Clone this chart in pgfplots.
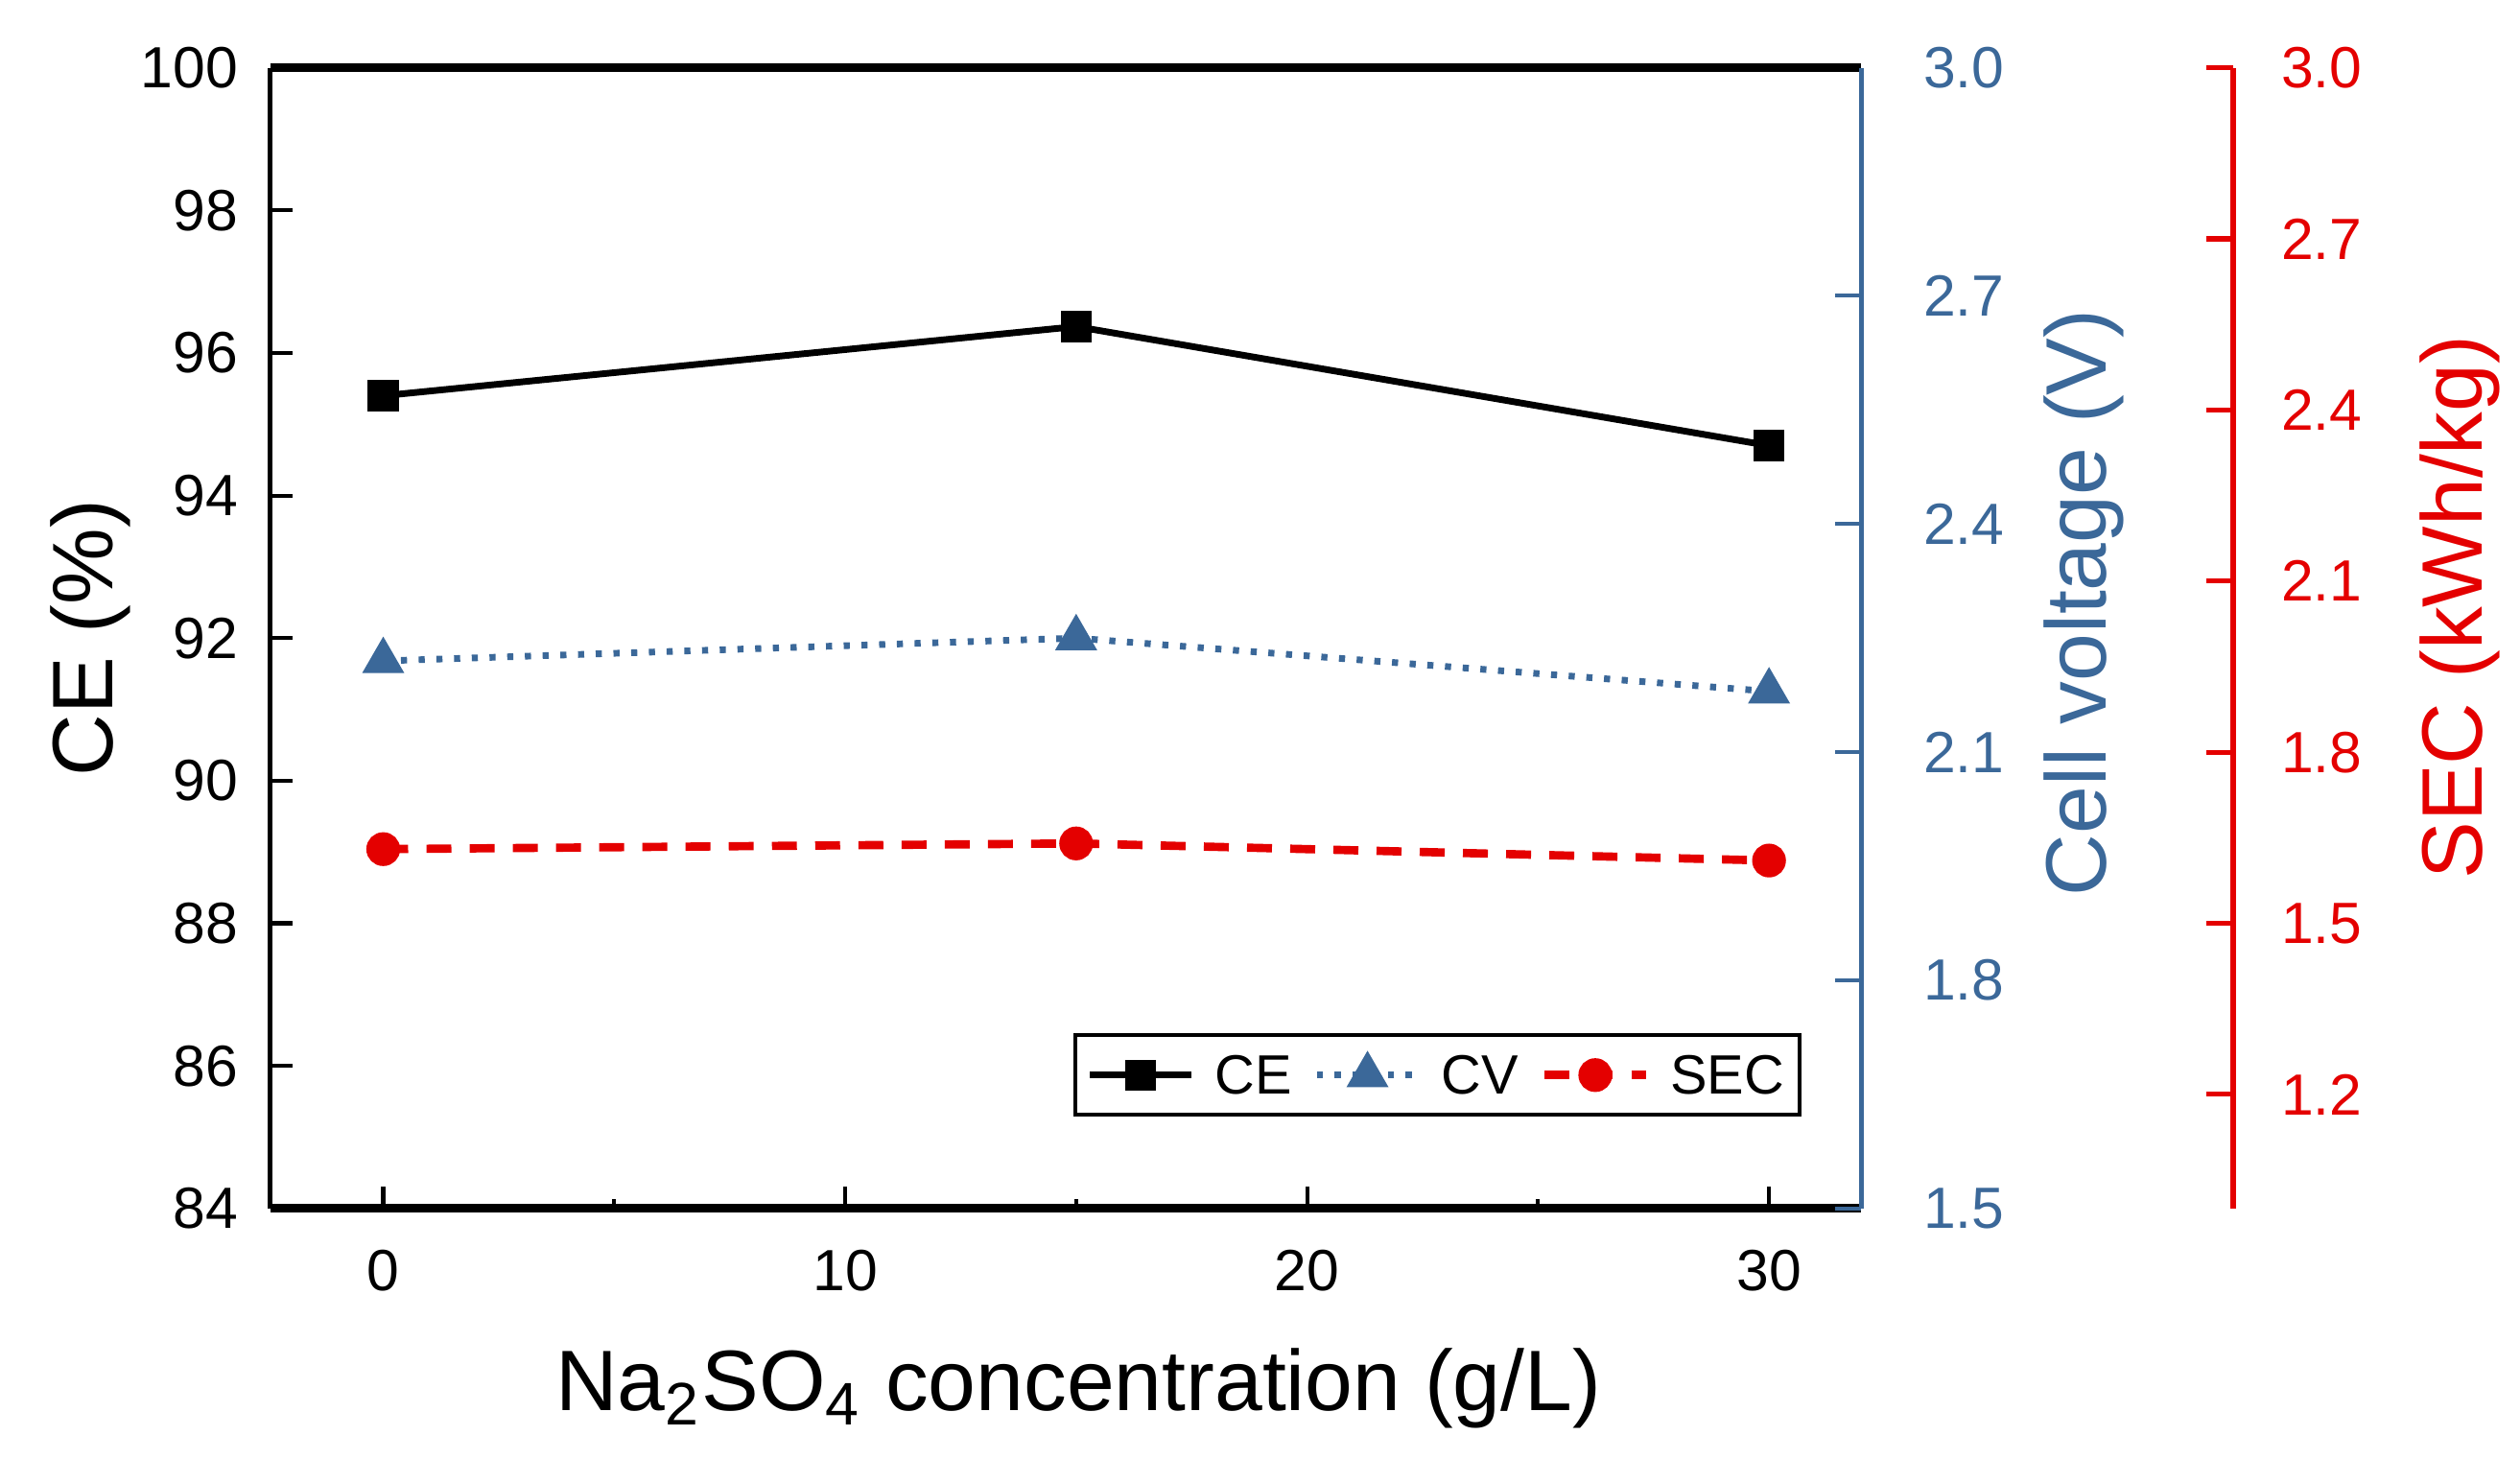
\documentclass[border=0pt]{standalone}
\usepackage{fontspec}
\setmainfont{Liberation Sans}
\usepackage{pgfplots}
\pgfplotsset{compat=1.18}

\definecolor{cvblue}{RGB}{59,104,153}
\definecolor{secred}{RGB}{228,0,0}

\pgfplotsset{
  ce/.style={black, line width=1.2pt, mark=square*, mark size=2.2pt, mark options={solid}},
  cv/.style={cvblue, line width=1.2pt, dash pattern=on 1.1pt off 2.1pt, mark=triangle*, mark size=3.2pt, mark options={solid}},
  sec/.style={secred, line width=1.5pt, dash pattern=on 4.5pt off 3.3pt, mark=*, mark size=2.3pt, mark options={solid}},
  frame/.style={scale only axis, width=10.1cm, height=7.24cm, at={(0,0)}, anchor=south west,
    xmin=-2.45, xmax=32},
  every axis/.append style={/pgf/number format/assume math mode=true,
    tick label style={font=\fontsize{10.5}{12}\selectfont},
    label style={font=\fontsize{15.5}{18}\selectfont},
    tick align=inside},
}

\begin{document}
\begin{tikzpicture}
\useasboundingbox (-1.714,-1.59) rectangle (14.28,7.67);

% CE, left axis
\begin{axis}[frame,
  ymin=84, ymax=100,
  axis x line*=bottom, axis y line*=left,
  x axis line style={line width=1.5pt},
  y axis line style={line width=0.8pt},
  xtick={0,10,20,30}, minor xtick={5,15,25},
  ytick={84,86,88,90,92,94,96,98,100},
  tick align=inside,
  major tick length=0.14cm, minor tick length=0.06cm,
  tick style={black, line width=0.7pt},
  xticklabel style={yshift=-0.14cm},
  yticklabel style={xshift=-0.08cm},
  xlabel={Na\textsubscript{2}SO\textsubscript{4} concentration (g/L)},
  xlabel style={at={(axis description cs:0.508,-0.1775)}, anchor=base},
  ylabel={CE (\%)},
  ylabel style={at={(axis description cs:-0.099,0.5)}, anchor=base},
]
\addplot[ce] coordinates {(0,95.40) (15,96.37) (30,94.70)};
\end{axis}

% CV, right axis
\begin{axis}[frame,
  ymin=1.5, ymax=3.0,
  axis x line*=top, xtick=\empty,
  x axis line style={black, line width=1.5pt},
  axis y line*=right,
  y axis line style={cvblue, line width=0.8pt},
  ytick={1.5,1.8,2.1,2.4,2.7,3.0},
  tick align=inside,
  major tick length=0.17cm,
  ytick style={cvblue, line width=0.7pt},
  yticklabel style={cvblue, xshift=0.27cm, /pgf/number format/fixed, /pgf/number format/fixed zerofill, /pgf/number format/precision=1},
  ylabel={Cell voltage (V)},
  ylabel style={cvblue, at={(axis description cs:1.1535,0.531)}, anchor=base},
]
\addplot[cv] coordinates {(0,2.22) (15,2.25) (30,2.18)};
\end{axis}

% SEC, offset axis (line, ticks and label only)
\begin{axis}[scale only axis, width=1cm, height=7.24cm,
  at={(12.46cm,0)}, anchor=south east,
  xmin=0, xmax=1, ymin=1.0, ymax=3.0,
  hide x axis,
  axis y line*=right,
  y axis line style={secred, line width=1pt},
  ytick={1.2,1.5,1.8,2.1,2.4,2.7,3.0},
  tick align=inside,
  major tick length=0.17cm,
  ytick style={secred, line width=0.9pt},
  yticklabel style={secred, xshift=0.18cm, /pgf/number format/fixed, /pgf/number format/fixed zerofill, /pgf/number format/precision=1},
  ylabel={SEC (kWh/kg)},
  ylabel style={secred, at={(axis description cs:2.58,0.527)}, anchor=base},
]
\end{axis}

% SEC data and legend
\begin{axis}[frame,
  ymin=1.0, ymax=3.0,
  hide axis,
  legend columns=-1,
  legend image code/.code={\draw[mark repeat=2,mark phase=2,#1] plot coordinates {(0cm,0cm) (0.32cm,0cm) (0.64cm,0cm)};},
  legend style={at={(axis description cs:0.9626,0.0803)}, anchor=south east,
    draw=black, line width=0.7pt, fill=white,
    font=\fontsize{10}{12}\selectfont,
    inner xsep=0.07cm, inner ysep=0.06cm,
    nodes={inner xsep=0.03cm, inner ysep=0.07cm, text depth=0pt},
    /tikz/every odd column/.append style={column sep=0.1cm},
    /tikz/every even column/.append style={column sep=0.11cm}},
]
\addlegendimage{ce}
\addlegendentry{CE}
\addlegendimage{cv}
\addlegendentry{CV}
\addplot[sec] coordinates {(0,1.63) (15,1.64) (30,1.61)};
\addlegendentry{SEC}
\end{axis}
\end{tikzpicture}
\end{document}
